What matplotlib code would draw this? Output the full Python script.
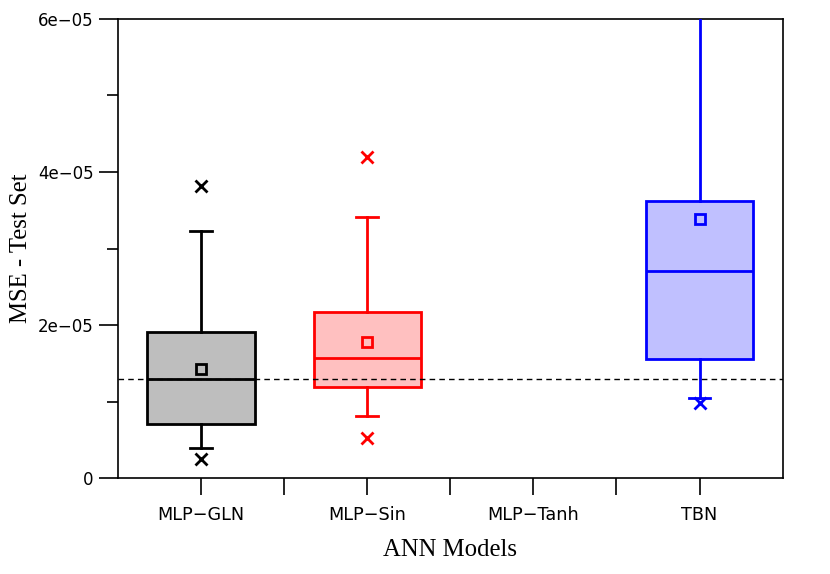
import matplotlib
matplotlib.use("Agg")
import matplotlib.pyplot as plt
from matplotlib.ticker import MultipleLocator

# box statistics (MSE on the test set)
models = ["MLP\u2212GLN", "MLP\u2212Sin", "MLP\u2212Tanh", "TBN"]
q1 = [0.706e-5, 1.19e-5, None, 1.555e-5]
med = [1.29e-5, 1.57e-5, None, 2.71e-5]
q3 = [1.91e-5, 2.17e-5, None, 3.62e-5]
mean = [1.42e-5, 1.78e-5, None, 3.39e-5]
whislo = [0.39e-5, 0.81e-5, None, 1.05e-5]
whishi = [3.23e-5, 3.41e-5, None, 7.5e-5]
fliers = [[0.25e-5, 3.82e-5], [0.52e-5, 4.20e-5], [], [0.98e-5]]
ref_line = 1.29e-5

edge = ["black", "red", None, "blue"]
fill = ["#bebebe", "#ffc0c0", None, "#c0c0ff"]

fig = plt.figure(figsize=(8.3, 5.74), dpi=100)
ax = fig.add_axes([0.142, 0.167, 0.801, 0.800])

for i in range(len(models)):
    if q1[i] is None:
        continue
    st = [dict(q1=q1[i], med=med[i], q3=q3[i], mean=mean[i],
               whislo=whislo[i], whishi=whishi[i], fliers=fliers[i])]
    c = edge[i]
    ax.bxp(st, positions=[i + 1], widths=0.645, capwidths=0.13,
           patch_artist=True, showmeans=True, zorder=3,
           boxprops=dict(facecolor=fill[i], edgecolor=c, linewidth=2),
           medianprops=dict(color=c, linewidth=2),
           whiskerprops=dict(color=c, linewidth=2),
           capprops=dict(color=c, linewidth=2),
           meanprops=dict(marker="s", markerfacecolor="none",
                          markeredgecolor=c, markersize=7, markeredgewidth=2),
           flierprops=dict(marker="x", markeredgecolor=c, markersize=8,
                           markeredgewidth=2))

ax.axhline(ref_line, color="black", linestyle=(0, (4, 3)), linewidth=1, zorder=4)

ax.set_xlim(0.5, 4.5)
ax.set_ylim(0, 6e-5)
ax.set_xticks([1, 2, 3, 4])
ax.set_xticklabels(models)
ax.set_xticks([1.5, 2.5, 3.5], minor=True)
ax.tick_params(axis="x", which="both", length=12, width=1.2, direction="out",
               labelsize=12.7, pad=8)
ax.set_yticks([0, 2e-5, 4e-5, 6e-5])
ax.set_yticklabels(["0", "2e\u221205", "4e\u221205", "6e\u221205"])
ax.yaxis.set_minor_locator(MultipleLocator(1e-5))
ax.tick_params(axis="y", which="major", length=14, width=1.2, labelsize=12)
ax.tick_params(axis="y", which="minor", length=8, width=1.2)
for s in ax.spines.values():
    s.set_linewidth(1.2)

ax.set_xlabel("ANN Models", family="Liberation Serif", fontsize=17.8, labelpad=11)
ax.set_ylabel("MSE - Test Set", family="Liberation Serif", fontsize=17.8, labelpad=4)

fig.savefig("out.png", dpi=100)
